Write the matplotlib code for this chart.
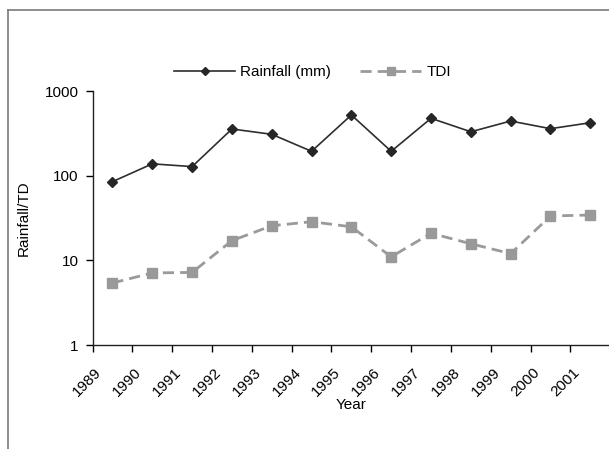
import matplotlib
matplotlib.use("Agg")
import matplotlib.pyplot as plt
import matplotlib.transforms as mtransforms
from matplotlib.lines import Line2D

plt.rcParams["font.family"] = ["Liberation Sans", "DejaVu Sans"]
plt.rcParams["font.size"] = 11

years = ["1989", "1990", "1991", "1992", "1993", "1994", "1995",
         "1996", "1997", "1998", "1999", "2000", "2001"]
rainfall = [85, 138, 128, 356, 308, 194, 521, 194, 476, 330, 442, 359, 422]
tdi = [5.4, 7.1, 7.2, 17.1, 25.6, 28.6, 24.9, 11.0, 20.9, 15.7, 12.0, 33.4, 34.3]

x = list(range(len(years)))

fig = plt.figure(figsize=(6.09, 4.49), dpi=100)
ax = fig.add_axes([0.152, 0.2316, 0.850, 0.5657])

ax.plot(x, rainfall, "-", color="#2e2e2e", lw=1.2, marker="D", ms=5.3,
        mfc="#262626", mec="#262626", label="Rainfall (mm)")
ax.plot(x, tdi, color="#9a9a9a", lw=2.0, ls=(0, (4, 2.2)), marker="s", ms=7.2,
        mfc="#999999", mec="#999999", label="TDI")

ax.set_yscale("log")
ax.set_ylim(1, 1000)
ax.set_yticks([1, 10, 100, 1000])
ax.set_yticklabels(["1", "10", "100", "1000"])
ax.yaxis.set_minor_locator(matplotlib.ticker.NullLocator())
ax.tick_params(axis="y", direction="out", length=5, width=1, pad=5, colors="black")

ax.set_xlim(-0.5, len(years) - 0.5)
# ticks at category boundaries, labels at category centers
ax.set_xticks([i - 0.5 for i in range(len(years) + 1)])
ax.set_xticklabels([])
ax.set_xticks(x, minor=True)
ax.set_xticklabels(years, minor=True, rotation=45, ha="right", va="top")
ax.tick_params(axis="x", which="major", direction="out", length=5, width=1)
ax.tick_params(axis="x", which="minor", length=0, pad=14.4)
offset = mtransforms.ScaledTranslation(-8 / 100, 0, fig.dpi_scale_trans)
for lab in ax.get_xticklabels(minor=True):
    lab.set_transform(lab.get_transform() + offset)

for side in ["top", "right"]:
    ax.spines[side].set_visible(False)
for side in ["left", "bottom"]:
    ax.spines[side].set_color("#222222")
    ax.spines[side].set_linewidth(1)

ax.set_xlabel("Year", labelpad=-0.7)
ax.set_ylabel("Rainfall/TD", labelpad=9.7)

fig.legend(loc="center", bbox_to_anchor=(0.513, 0.8396), ncol=2, frameon=False,
           handlelength=4.0, handletextpad=0.33, columnspacing=1.9, markerscale=0.75)

# outer gray frame (left and top edges)
fig.add_artist(Line2D([8 / 609, 8 / 609], [0, 1 - 10 / 449], transform=fig.transFigure,
                      color="#7a7a7a", lw=1.2))
fig.add_artist(Line2D([8 / 609, 1], [1 - 10 / 449, 1 - 10 / 449], transform=fig.transFigure,
                      color="#7a7a7a", lw=1.2))

fig.savefig("out.png", dpi=100)
